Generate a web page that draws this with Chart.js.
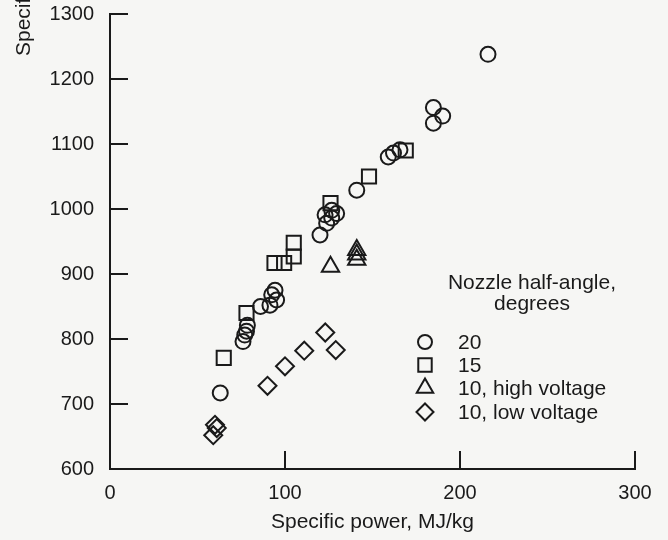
<!DOCTYPE html>
<html>
<head>
<meta charset="utf-8">
<script src="https://cdn.jsdelivr.net/npm/chart.js@4"></script>
<style>
  html, body { margin: 0; padding: 0; background: #f6f6f4; }
  #wrap { width: 668px; height: 540px; position: relative; }
</style>
</head>
<body>
<div id="wrap"><canvas id="c" width="668" height="540"></canvas></div>
<script>
// ---- data ----
const xTicks = [0, 100, 200, 300];
const yTicks = [600, 700, 800, 900, 1000, 1100, 1200, 1300];

const angle20X = [63, 76, 77, 78, 78.5, 86, 91.4, 92.4, 94.3, 95.2, 120, 122.9, 123.8, 126.7, 126.7, 129.5, 141, 159, 162, 165.7, 184.8, 190.1, 184.8, 216];
const angle20Y = [717, 796, 806, 812, 821, 850, 852, 868, 875, 860, 960, 991, 978, 998, 986, 993, 1029, 1080, 1086, 1091, 1156, 1143, 1132, 1238];

const angle15X = [65, 78, 94, 99.5, 105, 105, 126, 148, 169];
const angle15Y = [771, 840, 917, 917, 927, 948, 1009, 1050, 1090];

const angle10HighX = [126, 141, 141, 141];
const angle10HighY = [911, 937, 930, 922];

const angle10LowX = [59, 60, 61, 90, 100, 111, 123, 129];
const angle10LowY = [652, 668, 663, 728, 758, 782, 810, 783];

const seriesLabels = ['20', '15', '10, high voltage', '10, low voltage'];
const legendTitle = ['Nozzle half-angle,', 'degrees'];
const xTitle = 'Specific power, MJ/kg';
const yTitle = 'Specific impulse, s';

// ---- build ----
const pairs = (xs, ys) => xs.map((x, i) => ({ x: x, y: ys[i] }));
const INK = '#1a1a1a';
const FONT = '"Liberation Sans", Arial, Helvetica, sans-serif';

function ds(label, xs, ys, style, r) {
  return {
    label: label,
    data: pairs(xs, ys),
    pointStyle: style,
    pointRadius: r,
    pointHoverRadius: r,
    pointBorderWidth: 2,
    borderColor: INK,
    backgroundColor: 'rgba(0,0,0,0)',
    showLine: false
  };
}

const datasets = [
  ds(seriesLabels[0], angle20X, angle20Y, 'circle', 7.5),
  ds(seriesLabels[1], angle15X, angle15Y, 'rect', 10),
  ds(seriesLabels[2], angle10HighX, angle10HighY, 'triangle', 10),
  ds(seriesLabels[3], angle10LowX, angle10LowY, 'rectRot', 9)
];

const bgPlugin = {
  id: 'bg',
  beforeDraw(chart) {
    const ctx = chart.ctx;
    ctx.save();
    ctx.fillStyle = '#f6f6f4';
    ctx.fillRect(0, 0, chart.width, chart.height);
    ctx.restore();
  }
};

const innerTicks = {
  id: 'innerTicks',
  afterDraw(chart) {
    const ctx = chart.ctx;
    const xs = chart.scales.x, ys = chart.scales.y;
    const a = chart.chartArea;
    ctx.save();
    ctx.strokeStyle = INK;
    ctx.lineWidth = 2;
    xTicks.forEach(v => {
      if (v === xTicks[0]) return;
      const px = Math.round(xs.getPixelForValue(v));
      ctx.beginPath();
      ctx.moveTo(px, a.bottom);
      ctx.lineTo(px, a.bottom - 18);
      ctx.stroke();
    });
    yTicks.forEach(v => {
      if (v === yTicks[0]) return;
      const py = Math.round(ys.getPixelForValue(v));
      ctx.beginPath();
      ctx.moveTo(a.left, py);
      ctx.lineTo(a.left + 18, py);
      ctx.stroke();
    });
    // y-axis title (cropped at the top as in the reference)
    ctx.fillStyle = INK;
    ctx.font = '21px ' + FONT;
    ctx.translate(30, 56);
    ctx.rotate(-Math.PI / 2);
    ctx.textAlign = 'left';
    ctx.textBaseline = 'alphabetic';
    ctx.fillText(yTitle, 0, 0);
    ctx.restore();
  }
};

const legendPlugin = {
  id: 'innerLegend',
  afterDraw(chart) {
    const ctx = chart.ctx;
    ctx.save();
    ctx.fillStyle = INK;
    ctx.font = '21px ' + FONT;
    ctx.textAlign = 'center';
    ctx.textBaseline = 'middle';
    ctx.fillText(legendTitle[0], 532, 283);
    ctx.fillText(legendTitle[1], 532, 304);
    const rows = [342, 365, 388, 412];
    ctx.textAlign = 'left';
    chart.data.datasets.forEach((d, i) => {
      ctx.strokeStyle = INK;
      ctx.lineWidth = 2;
      ctx.fillStyle = 'rgba(0,0,0,0)';
      Chart.helpers.drawPoint(ctx, {
        pointStyle: d.pointStyle,
        radius: d.pointStyle === 'circle' ? 7 : (d.pointStyle === 'rectRot' ? 8.5 : 9.5),
        rotation: 0,
        borderWidth: 2
      }, 425, rows[i]);
      ctx.fillStyle = INK;
      ctx.fillText(d.label, 458, rows[i] + 1);
    });
    ctx.restore();
  }
};

new Chart(document.getElementById('c'), {
  type: 'scatter',
  data: { datasets: datasets },
  options: {
    responsive: false,
    animation: false,
    events: [],
    layout: { padding: { top: 14, right: 33, left: 0, bottom: 0 } },
    plugins: { legend: { display: false }, tooltip: { enabled: false } },
    scales: {
      x: {
        type: 'linear',
        min: 0, max: 300,
        afterFit(s) { s.height = 71; s.paddingLeft = 0; s.paddingRight = 0; },
        afterBuildTicks(s) { s.ticks = xTicks.map(v => ({ value: v })); },
        grid: { display: true, drawOnChartArea: false, drawTicks: false },
        border: { display: true, color: INK, width: 2 },
        ticks: { color: INK, padding: 12, font: { family: FONT, size: 20 }, maxRotation: 0, callback: v => String(v) },
        title: { display: true, text: xTitle, color: INK, font: { family: FONT, size: 21 }, padding: { top: 0, bottom: 5 } }
      },
      y: {
        type: 'linear',
        min: 600, max: 1300,
        afterFit(s) { s.width = 110; s.paddingTop = 0; s.paddingBottom = 0; },
        afterBuildTicks(s) { s.ticks = yTicks.map(v => ({ value: v })); },
        grid: { display: true, drawOnChartArea: false, drawTicks: false },
        border: { display: true, color: INK, width: 2 },
        ticks: { color: INK, padding: 16, font: { family: FONT, size: 20 }, callback: v => String(v) }
      }
    }
  },
  plugins: [bgPlugin, innerTicks, legendPlugin]
});
</script>
</body>
</html>
